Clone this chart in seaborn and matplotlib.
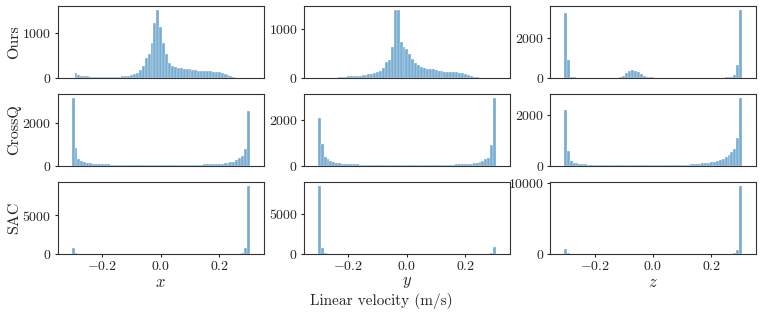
import numpy as np
import matplotlib.pyplot as plt
import matplotlib.ticker as mticker
import seaborn as sns

# Bin centres of the velocity histograms (m/s), one bin every 0.01
bin_centers = np.round(np.arange(-0.30, 0.3001, 0.01), 2)

# Counts per bin (61 bins, from -0.30 to 0.30)
ours_x = [0, 110, 70, 45, 35, 30, 25, 22, 20, 20,
          22, 25, 25, 22, 22, 25, 28, 32, 38, 45,
          55, 80, 110, 180, 270, 430, 540, 770, 1220, 1520,
          1130, 770, 540, 340, 270, 240, 225, 215, 205, 200,
          190, 180, 170, 160, 155, 150, 145, 140, 135, 130,
          120, 105, 90, 70, 50, 20, 0, 0, 0, 0, 0]
ours_y = [0, 0, 0, 0, 0, 0, 0, 10, 15, 25,
          30, 35, 40, 40, 45, 50, 60, 70, 80, 100,
          120, 150, 210, 320, 360, 640, 1410, 1410, 740, 640,
          590, 500, 380, 310, 270, 230, 200, 180, 175, 190,
          160, 140, 130, 128, 125, 120, 115, 110, 100, 90,
          75, 55, 35, 20, 10, 0, 0, 0, 0, 0, 0]
ours_z = [3260, 900, 60, 20, 5, 5, 5, 5, 5, 5,
          5, 5, 5, 5, 5, 5, 5, 5, 5, 20,
          100, 250, 340, 370, 360, 300, 200, 110, 50, 25,
          15, 10, 10, 10, 10, 10, 10, 10, 10, 10,
          10, 10, 10, 10, 10, 10, 10, 10, 10, 10,
          10, 10, 10, 10, 10, 20, 30, 60, 150, 650, 3420]

crossq_x = [3190, 815, 300, 230, 180, 150, 125, 110, 100, 90,
            80, 75, 70, 65, 60, 55, 52, 50, 48, 46,
            45, 44, 43, 42, 42, 42, 42, 42, 42, 42,
            42, 42, 43, 43, 44, 45, 46, 47, 48, 50,
            52, 55, 58, 62, 66, 70, 75, 80, 85, 92,
            100, 110, 125, 140, 160, 200, 260, 350, 460, 770, 2570]
crossq_y = [2070, 930, 390, 290, 215, 180, 140, 110, 95, 85,
            78, 72, 66, 62, 58, 55, 50, 50, 50, 50,
            50, 50, 50, 50, 50, 50, 50, 50, 50, 50,
            50, 50, 50, 50, 50, 50, 50, 50, 50, 50,
            50, 50, 50, 50, 50, 55, 58, 62, 66, 72,
            80, 90, 100, 120, 145, 180, 215, 290, 330, 890, 2960]
crossq_z = [2190, 600, 190, 130, 95, 80, 70, 62, 55, 50,
            40, 40, 40, 40, 40, 40, 40, 40, 40, 40,
            40, 40, 40, 40, 40, 40, 40, 40, 40, 40,
            40, 40, 40, 40, 40, 40, 40, 40, 40, 40,
            45, 50, 55, 60, 68, 75, 85, 95, 110, 125,
            145, 170, 200, 240, 290, 350, 420, 550, 650, 1100, 2670]

sac_x = [810, 200, 30, 5, 0, 0, 0, 0, 0, 0,
         0, 0, 0, 0, 0, 0, 0, 0, 0, 0,
         0, 0, 0, 0, 0, 0, 0, 0, 0, 0,
         0, 0, 0, 0, 0, 0, 0, 0, 0, 0,
         0, 0, 0, 0, 0, 0, 0, 0, 0, 0,
         0, 0, 0, 0, 0, 5, 20, 60, 200, 730, 8790]
sac_y = [8420, 780, 150, 50, 10, 0, 0, 0, 0, 0,
         0, 0, 0, 0, 0, 0, 0, 0, 0, 0,
         0, 0, 0, 0, 0, 0, 0, 0, 0, 0,
         0, 0, 0, 0, 0, 0, 0, 0, 0, 0,
         0, 0, 0, 0, 0, 0, 0, 0, 0, 0,
         0, 0, 0, 0, 0, 0, 0, 20, 60, 150, 900]
sac_z = [700, 150, 20, 0, 0, 0, 0, 0, 0, 0,
         0, 0, 0, 0, 0, 0, 0, 0, 0, 0,
         0, 0, 0, 0, 0, 0, 0, 0, 0, 0,
         0, 0, 0, 0, 0, 0, 0, 0, 0, 0,
         0, 0, 0, 0, 0, 0, 0, 0, 0, 0,
         0, 0, 0, 0, 0, 0, 5, 30, 100, 550, 9560]

methods = ['Ours', 'CrossQ', 'SAC']
axes_names = ['$x$', '$y$', '$z$']
counts = [[ours_x, ours_y, ours_z],
          [crossq_x, crossq_y, crossq_z],
          [sac_x, sac_y, sac_z]]

sns.set_style('ticks')
plt.rcParams['font.family'] = 'serif'
plt.rcParams['font.serif'] = ['cmr10']
plt.rcParams['mathtext.fontset'] = 'cm'
plt.rcParams['axes.formatter.use_mathtext'] = True
plt.rcParams['font.size'] = 10
plt.rcParams['xtick.major.size'] = 2.5
plt.rcParams['ytick.major.size'] = 2.5
plt.rcParams['xtick.major.pad'] = 2
plt.rcParams['ytick.major.pad'] = 2

fig, axes = plt.subplots(3, 3, figsize=(7.62, 3.22), dpi=100, sharex=True)
fig.subplots_adjust(left=0.076, right=0.992, top=0.981, bottom=0.211,
                    wspace=0.196, hspace=0.23)

for i, method in enumerate(methods):
    for j, name in enumerate(axes_names):
        ax = axes[i, j]
        sns.histplot(x=bin_centers, weights=counts[i][j], binwidth=0.01,
                     binrange=(-0.305, 0.305), color='#1f77b4', alpha=0.6, ax=ax)
        ax.set_xlim(-0.352, 0.352)
        # only two y ticks per panel, like the original
        ax.yaxis.set_major_locator(mticker.MaxNLocator(nbins=2, steps=[1, 2, 5, 10]))
        ax.set_ylabel(method if j == 0 else '', fontsize=11.5)
        ax.yaxis.set_label_coords(-0.18, 0.5)
        if i == 2:
            ax.set_xlabel(name, fontsize=12, labelpad=1)
        else:
            ax.set_xlabel('')
            ax.tick_params(axis='x', bottom=False)
        for s in ax.spines.values():
            s.set_color('#333333')

fig.supxlabel('Linear velocity (m/s)', fontsize=11, y=0.04)
plt.savefig('out.png')
